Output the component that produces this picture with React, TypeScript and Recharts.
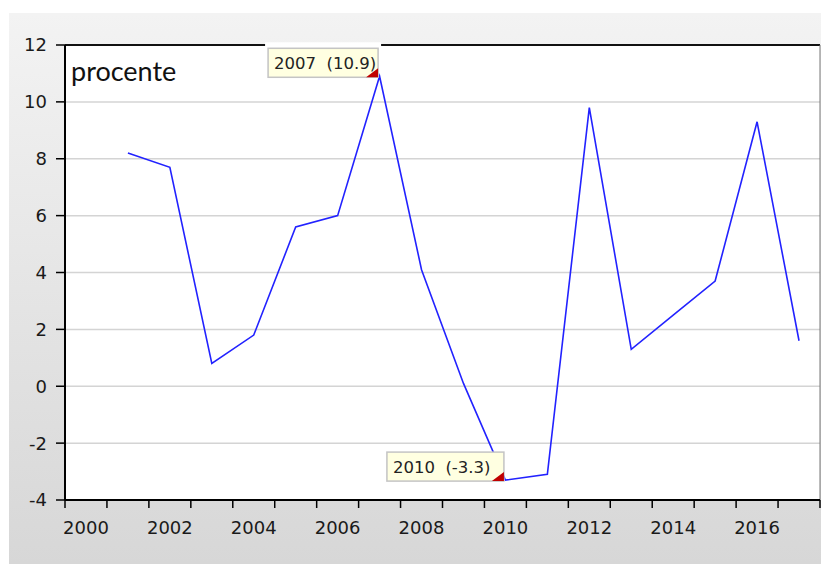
import { LineChart, Line, XAxis, YAxis, CartesianGrid, ReferenceLine, ReferenceDot } from 'recharts'

// annual growth, percent
const years = [2001, 2002, 2003, 2004, 2005, 2006, 2007, 2008, 2009, 2010, 2011, 2012, 2013, 2014, 2015, 2016, 2017]
const growth = [8.2, 7.7, 0.8, 1.8, 5.6, 6.0, 10.9, 4.1, 0.1, -3.3, -3.1, 9.8, 1.3, 2.5, 3.7, 9.3, 1.6]

const xTicks = [2000, 2001, 2002, 2003, 2004, 2005, 2006, 2007, 2008, 2009, 2010, 2011, 2012, 2013, 2014, 2015, 2016, 2017, 2018]
const xLabels = [2000, 2002, 2004, 2006, 2008, 2010, 2012, 2014, 2016]
const yTicks = [-4, -2, 0, 2, 4, 6, 8, 10, 12]

const noteYears = [2007, 2010]
const noteValues = [10.9, -3.3]

const unitLabel = 'procente'

const data = years.map((year, i) => ({ year, value: growth[i] }))

const W = 812
const H = 551
const LEFT = 56
const RIGHT = 1
const YEAR_PX = (W - LEFT - RIGHT) / 18
const AXIS_FONT = '"DejaVu Sans", sans-serif'

function XTick(props: any) {
  const { x, y, payload } = props
  if (!xLabels.includes(payload.value)) return <g />
  return (
    <text x={x + YEAR_PX / 2} y={y} dy={24} textAnchor="middle" fontSize={18} fontFamily={AXIS_FONT} fill="#1a1a1a">
      {payload.value}
    </text>
  )
}

function noteShape(text: string, width: number, halo: boolean) {
  return (props: any) => {
    const { cx, cy } = props
    const right = cx - 1.5
    const bottom = cy + 1
    const left = right - width
    const top = bottom - 29
    return (
      <g>
        {halo && <rect x={left - 3} y={top - 6} width={width + 6} height={8} fill="#fff" />}
        <rect x={left} y={top} width={width} height={29} fill="#ffffe1" stroke="#c4c4c4" strokeWidth={1.5} />
        <text x={left + 6} y={bottom - 8} fontSize={16.5} fontFamily={AXIS_FONT} fill="#222" style={{ whiteSpace: 'pre' }}>
          {text}
        </text>
        <path d={`M${right - 12},${bottom} L${right},${bottom} L${right},${bottom - 9} Z`} fill="#c00000" />
      </g>
    )
  }
}

export default function App() {
  return (
    <>
      <style>{'body{margin:0;overflow:hidden}'}</style>
      <div
        style={{
          position: 'absolute',
          left: 9,
          top: 13,
          width: W,
          height: H,
          background: 'linear-gradient(#f3f3f3, #d7d7d7)',
        }}
      >
        <LineChart width={W} height={H} data={data} margin={{ top: 32, right: RIGHT, bottom: 0, left: 0 }}>
          <CartesianGrid vertical={false} stroke="#d4d4d4" strokeWidth={1.5} fill="#fff" />
          <XAxis
            type="number"
            dataKey={(d: any) => d.year + 0.5}
            domain={[2000, 2018]}
            ticks={xTicks}
            interval={0}
            height={64}
            tickSize={8}
            axisLine={{ stroke: '#000', strokeWidth: 2 }}
            tickLine={{ stroke: '#000', strokeWidth: 1.5 }}
            tick={XTick}
          />
          <YAxis
            type="number"
            domain={[-4, 12]}
            ticks={yTicks}
            interval={0}
            width={LEFT}
            tickSize={9}
            tickMargin={9}
            axisLine={{ stroke: '#000', strokeWidth: 2 }}
            tickLine={{ stroke: '#000', strokeWidth: 1.5 }}
            tick={{ fontSize: 18, fontFamily: AXIS_FONT, fill: '#1a1a1a' }}
          />
          <ReferenceLine y={12} stroke="#111" strokeWidth={2} />
          <ReferenceLine x={2018} stroke="#777" strokeWidth={1} />
          <Line
            type="linear"
            dataKey="value"
            stroke="#2222ff"
            strokeWidth={1.6}
            dot={false}
            activeDot={false}
            isAnimationActive={false}
          />
          {noteYears.map((year, i) => (
            <ReferenceDot
              key={year}
              x={year + 0.5}
              y={noteValues[i]}
              shape={noteShape(`${year}  (${noteValues[i]})`, i === 0 ? 110 : 117, i === 0)}
            />
          ))}
        </LineChart>
        <svg width={W} height={H} style={{ position: 'absolute', left: 0, top: 0, pointerEvents: 'none' }}>
          <text x={62} y={68} fontSize={27} fontFamily="Lato, sans-serif" fill="#111">
            {unitLabel}
          </text>
        </svg>
      </div>
    </>
  )
}
